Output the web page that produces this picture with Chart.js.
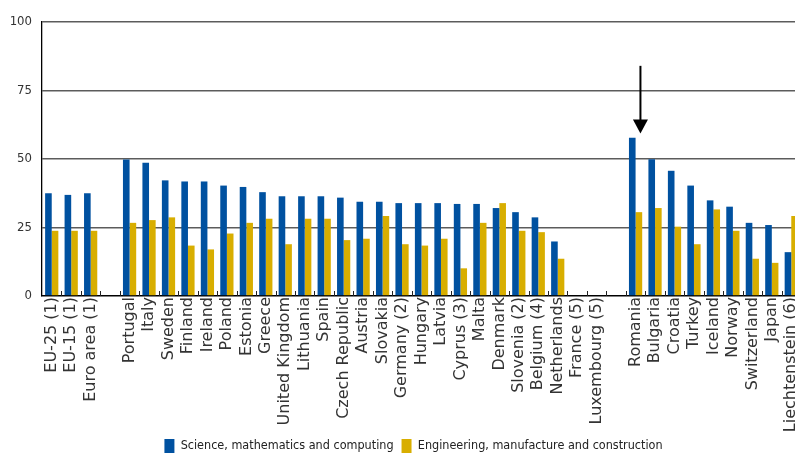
<!DOCTYPE html>
<html>
<head>
<meta charset="utf-8">
<script src="https://cdn.jsdelivr.net/npm/chart.js@4/dist/chart.umd.min.js"></script>
<style>
  html, body { margin: 0; padding: 0; background: #fff; overflow: hidden; }
  #wrap { width: 795px; height: 455px; position: relative; }
</style>
</head>
<body>
<div id="wrap"><canvas id="grafico"></canvas></div>
<script>
// Categorias (strings vazias = espaços entre grupos)
const paises = [
  'EU-25 (1)', 'EU-15 (1)', 'Euro area (1)', '',
  'Portugal', 'Italy', 'Sweden', 'Finland', 'Ireland', 'Poland', 'Estonia', 'Greece',
  'United Kingdom', 'Lithuania', 'Spain', 'Czech Republic', 'Austria', 'Slovakia',
  'Germany (2)', 'Hungary', 'Latvia', 'Cyprus (3)', 'Malta', 'Denmark', 'Slovenia (2)',
  'Belgium (4)', 'Netherlands', 'France (5)', 'Luxembourg (5)', '',
  'Romania', 'Bulgaria', 'Croatia', 'Turkey', 'Iceland', 'Norway', 'Switzerland',
  'Japan', 'Liechtenstein (6)'
];

const ciencia = [
  37.5, 36.9, 37.5, null,
  49.8, 48.6, 42.2, 41.8, 41.8, 40.3, 39.8, 37.9,
  36.4, 36.4, 36.4, 35.9, 34.4, 34.4,
  33.9, 33.9, 33.9, 33.6, 33.6, 32.1, 30.6,
  28.7, 19.9, null, null, null,
  57.8, 49.9, 45.7, 40.3, 34.9, 32.6, 26.7,
  25.9, 16.0
];

const engenharia = [
  23.8, 23.8, 23.8, null,
  26.7, 27.7, 28.7, 18.4, 17.0, 22.8, 26.7, 28.2,
  18.9, 28.2, 28.2, 20.4, 20.9, 29.2,
  18.9, 18.4, 20.9, 10.1, 26.7, 33.9, 23.8,
  23.3, 13.6, null, null, null,
  30.6, 32.1, 25.3, 18.9, 31.6, 23.8, 13.6,
  12.1, 29.2
];

const ticksY = [0, 25, 50, 75, 100];
const destaque = 'Romania';

// marcas pequenas entre categorias, para dentro do gráfico
const marcasEixo = {
  id: 'marcasEixo',
  afterDatasetsDraw(c) {
    const x = c.scales.x, ctx = c.ctx, base = c.chartArea.bottom;
    const passo = x.getPixelForValue(1) - x.getPixelForValue(0);
    ctx.save();
    ctx.strokeStyle = '#222';
    ctx.lineWidth = 1;
    for (let i = 1; i < paises.length; i++) {
      const px = Math.round(x.getPixelForValue(i) - passo / 2) + 0.5;
      ctx.beginPath();
      ctx.moveTo(px, base);
      ctx.lineTo(px, base - 5);
      ctx.stroke();
    }
    ctx.restore();
  }
};

// seta sobre a Roménia
const seta = {
  id: 'seta',
  afterDraw(c) {
    const x = c.scales.x, y = c.scales.y, ctx = c.ctx;
    const i = paises.indexOf(destaque);
    const passo = x.getPixelForValue(1) - x.getPixelForValue(0);
    const px = x.getPixelForValue(i) + passo * 0.25;
    const topo = y.getPixelForValue(84);
    const ponta = y.getPixelForValue(59.3);
    ctx.save();
    ctx.strokeStyle = '#000';
    ctx.fillStyle = '#000';
    ctx.lineWidth = 2;
    ctx.beginPath();
    ctx.moveTo(px, topo);
    ctx.lineTo(px, ponta - 10);
    ctx.stroke();
    ctx.beginPath();
    ctx.moveTo(px - 7.5, ponta - 14);
    ctx.lineTo(px + 7.5, ponta - 14);
    ctx.lineTo(px, ponta);
    ctx.closePath();
    ctx.fill();
    ctx.restore();
  }
};

// o gráfico original passa um pouco da margem direita; legenda deslocada à direita
const ajustaLayout = {
  id: 'ajustaLayout',
  afterLayout(c) {
    const extra = 6;
    const x = c.scales.x;
    x.right += extra;
    x.width += extra;
    c.chartArea.right += extra;
    c.chartArea.width += extra;
    x.configure();
    if (c.legend) {
      c.legend.left += 16;
      c.legend.right += 16;
    }
  }
};

const chart = new Chart(document.getElementById('grafico'), {
  type: 'bar',
  data: {
    labels: paises,
    datasets: [{
      label: 'Science, mathematics and computing',
      data: ciencia,
      backgroundColor: '#0051a0',
      borderWidth: 0,
      barPercentage: 1,
      categoryPercentage: 0.68
    }, {
      label: 'Engineering, manufacture and construction',
      data: engenharia,
      backgroundColor: '#d8ae00',
      borderWidth: 0,
      barPercentage: 1,
      categoryPercentage: 0.68
    }]
  },
  options: {
    responsive: true,
    maintainAspectRatio: false,
    animation: false,
    layout: { padding: { top: 22, right: 0, left: 0, bottom: -8 } },
    scales: {
      x: {
        offset: true,
        grid: { display: false, drawTicks: false },
        border: { display: true, color: '#000', width: 1.3 },
        ticks: {
          autoSkip: false,
          maxRotation: 90,
          minRotation: 90,
          padding: 1,
          color: '#333',
          font: { family: 'DejaVu Sans', size: 16 }
        },
        afterFit(scale) {
          scale.height = 135;
          scale.paddingRight = 0;
          scale.paddingLeft = 0;
        }
      },
      y: {
        min: 0,
        max: 100,
        afterBuildTicks(scale) { scale.ticks = ticksY.map(v => ({ value: v })); },
        grid: { color: '#5c5c5c', lineWidth: 1.6, drawTicks: false },
        border: { display: true, color: '#000', width: 1.3 },
        ticks: {
          padding: 10,
          color: '#333',
          font: { family: 'DejaVu Sans Condensed', size: 13 }
        },
        afterFit(scale) { scale.width = 42; }
      }
    },
    plugins: {
      legend: {
        position: 'bottom',
        labels: {
          boxWidth: 10,
          boxHeight: 14,
          padding: 8,
          color: '#222',
          font: { family: 'DejaVu Sans Condensed', size: 12.5 }
        }
      },
      tooltip: { enabled: false }
    }
  },
  plugins: [marcasEixo, seta, ajustaLayout]
});
</script>
</body>
</html>
